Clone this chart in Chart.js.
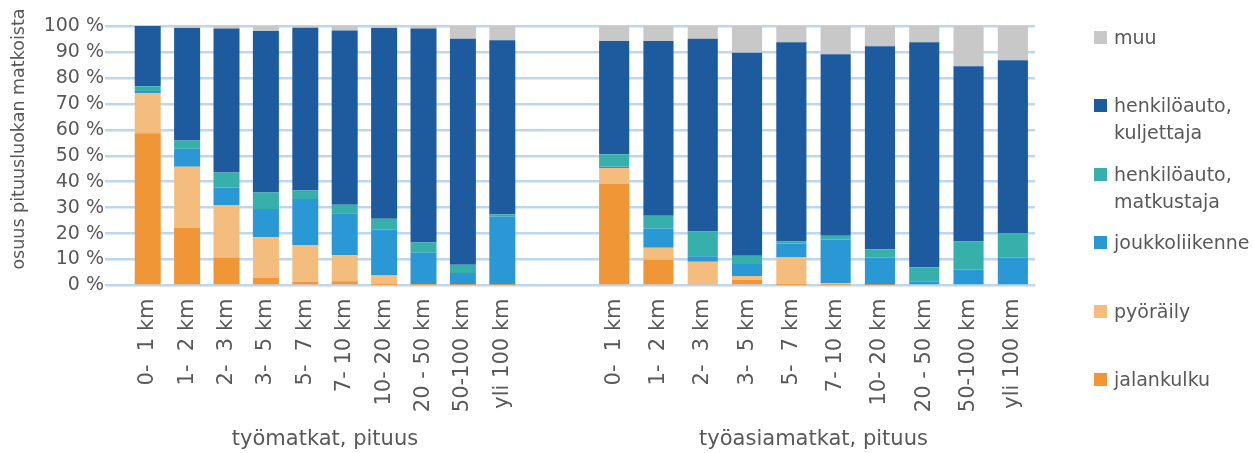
<!DOCTYPE html>
<html>
<head>
<meta charset="utf-8">
<script src="https://cdn.jsdelivr.net/npm/chart.js@4"></script>
<style>
  html, body { margin: 0; padding: 0; background: #fff; }
  #wrap { position: relative; width: 1254px; height: 453px; overflow: hidden; }
  #c1 { position: absolute; left: 0; top: 0; }
  #c2 { position: absolute; left: 522px; top: 0; }
  #legend { position: absolute; left: 1094px; top: 24px; margin: 0; padding: 0; list-style: none;
    font-family: "DejaVu Sans", sans-serif; font-size: 19px; color: #595959; }
  #legend li { position: relative; height: 68.4px; line-height: 27px; padding-left: 20px; white-space: pre-line; }
  #legend li span { position: absolute; left: 0; top: 7px; width: 13px; height: 13px; }
</style>
</head>
<body>
<div id="wrap">
  <canvas id="c1" width="522" height="453"></canvas>
  <canvas id="c2" width="732" height="453"></canvas>
  <ul id="legend"></ul>
</div>
<script>
// categories and series (percent of trips in each length class)
const categories = ['0-  1 km', '1-  2 km', '2-  3 km', '3-  5 km', '5-  7 km', '7- 10 km', '10- 20 km', '20 - 50 km', '50-100 km', 'yli 100 km'];
const modes = ['jalankulku', 'pyöräily', 'joukkoliikenne', 'henkilöauto, matkustaja', 'henkilöauto, kuljettaja', 'muu'];
const modeColors = ['#F09636', '#F5BD7D', '#2B98D6', '#37B0AC', '#1D5A9E', '#C8C8C8'];
const yTicks = [0, 10, 20, 30, 40, 50, 60, 70, 80, 90, 100];

// työmatkat
const tmJalankulku  = [58.7, 22.2, 10.8, 2.9, 1.4, 1.6, 0.2, 0.1, 0.1, 0.1];
const tmPyoraily    = [15.5, 23.6, 20.2, 15.7, 14.2, 10.1, 3.7, 0.4, 0.2, 0.2];
const tmJoukko      = [0.8, 6.9, 6.8, 10.9, 17.7, 16.1, 17.7, 12.1, 4.5, 26.2];
const tmMatkustaja  = [1.8, 3.2, 5.7, 6.3, 3.3, 3.3, 4.1, 4.0, 3.2, 0.9];
const tmKuljettaja  = [23.2, 43.3, 55.5, 62.3, 62.7, 67.2, 73.5, 82.4, 87.1, 67.1];
const tmMuu         = [0.0, 0.8, 1.0, 1.9, 0.7, 1.7, 0.8, 1.0, 4.9, 5.5];

// työasiamatkat
const taJalankulku  = [39.1, 9.9, 0.7, 2.2, 0.1, 0.1, 0.1, 0, 0, 0];
const taPyoraily    = [6.2, 4.6, 8.5, 1.5, 10.7, 0.8, 0.1, 0, 0, 0];
const taJoukko      = [0.6, 7.5, 2.1, 4.6, 5.4, 16.8, 10.6, 1.4, 6.2, 10.8];
const taMatkustaja  = [4.7, 4.9, 9.5, 3.2, 0.8, 1.5, 3.2, 5.6, 10.8, 9.2];
const taKuljettaja  = [43.6, 67.3, 74.3, 78.2, 76.7, 69.9, 78.2, 86.7, 67.5, 66.8];
const taMuu         = [5.8, 5.8, 4.9, 10.3, 6.3, 10.9, 7.8, 6.3, 15.5, 13.2];

const TEXT = '#595959';
const GRID = '#BDD7EE';
const FONT = '"DejaVu Sans", sans-serif';

function makeDatasets(series, barPct){
  return series.map((data, i) => ({
    label: modes[i],
    data: data,
    backgroundColor: modeColors[i],
    borderWidth: 0,
    barPercentage: barPct,
    categoryPercentage: 1
  }));
}

function xScale(title){
  return {
    stacked: true,
    grid: { display: false, drawTicks: false },
    border: { display: false },
    ticks: { color: TEXT, font: { family: FONT, size: 21 }, minRotation: 90, maxRotation: 90, autoSkip: false, padding: 13 },
    title: { display: true, text: title, color: TEXT, font: { family: FONT, size: 21 }, padding: { top: 0, bottom: 1 } },
    afterFit: (s) => { s.height = 167.5; s.paddingLeft = 0; s.paddingRight = 0; }
  };
}

function yScale(showLabels, tickLen, width){
  return {
    stacked: true,
    min: 0, max: 100,
    afterBuildTicks: (s) => { s.ticks = yTicks.map(v => ({ value: v })); },
    grid: { color: GRID, lineWidth: 2.5, drawTicks: true, tickLength: tickLen },
    border: { display: false },
    ticks: { display: showLabels, color: TEXT, font: { family: FONT, size: 19 }, padding: 1,
      callback: (v) => v + ' %' },
    // leading spaces lift the rotated title a little, as in the original
    title: { display: showLabels, text: '      osuus pituusluokan matkoista', color: TEXT,
      font: { family: FONT, size: 17.5 }, padding: { top: 9, bottom: 0 } },
    afterFit: (s) => { s.width = width; }
  };
}

const htmlLegend = {
  id: 'htmlLegend',
  afterUpdate(chart){
    const ul = document.getElementById('legend');
    ul.innerHTML = '';
    const items = chart.options.plugins.legend.labels.generateLabels(chart).slice().reverse();
    items.forEach(item => {
      const li = document.createElement('li');
      const box = document.createElement('span');
      box.style.background = item.fillStyle;
      li.appendChild(box);
      li.appendChild(document.createTextNode(item.text.replace(', ', ',\n')));
      ul.appendChild(li);
    });
  }
};

new Chart(document.getElementById('c1'), {
  type: 'bar',
  data: {
    labels: categories,
    datasets: makeDatasets([tmJalankulku, tmPyoraily, tmJoukko, tmMatkustaja, tmKuljettaja, tmMuu], 0.66)
  },
  options: {
    responsive: false,
    animation: false,
    layout: { padding: { left: 0, right: 0, top: 26, bottom: 0 } },
    plugins: { legend: { display: false }, tooltip: { enabled: false } },
    scales: { x: xScale('työmatkat, pituus'), y: yScale(true, 23, 128) }
  }
});

new Chart(document.getElementById('c2'), {
  type: 'bar',
  data: {
    labels: categories,
    datasets: makeDatasets([taJalankulku, taPyoraily, taJoukko, taMatkustaja, taKuljettaja, taMuu], 0.68)
  },
  options: {
    responsive: false,
    animation: false,
    layout: { padding: { left: 0, right: 219, top: 26, bottom: 0 } },
    plugins: { legend: { display: false }, tooltip: { enabled: false } },
    scales: { x: xScale('työasiamatkat, pituus'), y: yScale(false, 70, 70) }
  },
  plugins: [htmlLegend]
});
</script>
</body>
</html>
